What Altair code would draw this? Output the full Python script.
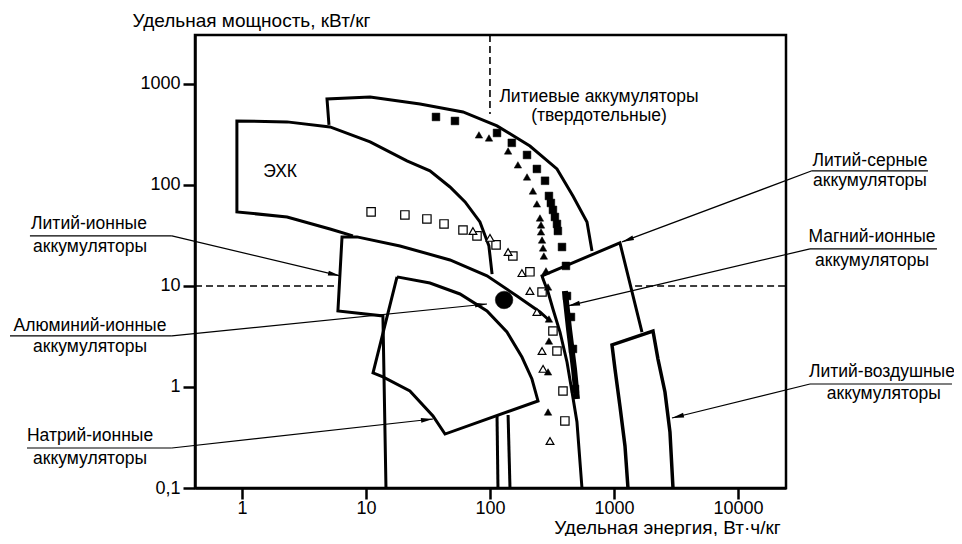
import math
import altair as alt
import pandas as pd

FONT = "Liberation Sans"
X_DOMAIN = [0.418, 24400]
Y_DOMAIN = [0.1, 3050]
W, H = 591, 453

x_ticks = [1, 10, 100, 1000, 10000]
x_tick_labels = ["1", "10", "100", "1000", "10000"]
y_ticks = [0.1, 1, 10, 100, 1000]
y_tick_labels = ["0,1", "1", "10", "100", "1000"]

# ---- region outlines: energy (Wh/kg), power (kW/kg) ----
ehk_E = [7.85, 5.13, 2.31, 0.91, 0.91, 2.31, 5.13, 10.8, 21.4, 32.8, 47.6, 63, 83, 98, 104]
ehk_P = [31.3, 36.6, 48.2, 54.1, 430, 421, 375, 267, 173, 138, 95.5, 68, 43, 25, 13.1]

li_ion_E = [14.5, 13.7, 5.94, 6.41, 8.46, 18.8, 47.6, 94.6, 165, 253, 305]
li_ion_P = [0.1, 5.05, 5.66, 30.6, 30.6, 24.9, 18.1, 12.6, 7.96, 5.53, 4.50]

na_ion_E = [17.8, 32.8, 57.3, 94.6, 137, 181, 218, 244, 43.4, 34.7, 22.6, 13.7, 11.4, 17.8]
na_ion_P = [12.3, 10.7, 8.33, 5.66, 3.50, 1.98, 1.20, 0.727, 0.342, 0.516, 0.912, 1.26, 1.38, 12.3]

below_na1_E = [114, 116]
below_na1_P = [0.516, 0.1]
below_na2_E = [140, 145]
below_na2_P = [0.528, 0.1]

solid_E = [5.03, 4.85, 10.8, 27.3, 60.6, 114, 210, 347, 467, 606, 665]
solid_P = [393, 710, 743, 634, 528, 384, 243, 144, 77.8, 43.0, 22.2]

li_s_E = [552, 503, 459, 418, 367, 322, 294, 268, 263, 1117, 1682]
li_s_P = [0.1, 0.450, 0.892, 1.77, 3.50, 5.92, 8.72, 11.7, 12.6, 26.7, 3.50]

li_air_E = [1297, 1227, 1117, 1019, 964, 2064, 2264, 2578, 2829, 2992]
li_air_P = [0.1, 0.261, 0.648, 1.51, 2.61, 3.58, 1.89, 0.892, 0.358, 0.1]

mg_E = [402, 434, 476, 503]
mg_P = [8.92, 3.75, 1.51, 0.760]

# ---- data markers ----
black_sq_E = [36.7, 52.2, 114, 150, 199, 239, 278, 299, 310, 322, 334, 347, 353, 381, 410, 418, 450, 467, 485]
black_sq_P = [471, 430, 327, 261, 198, 144, 110, 77.8, 66.3, 56.6, 48.2, 41.1, 35.0, 24.3, 15.8, 7.96, 4.93, 2.38, 0.955]

black_tri_E = [81.5, 98.2, 140, 168, 199, 222, 239, 253, 258, 258, 263, 268, 272, 283, 294, 299, 299, 294, 294]
black_tri_P = [313, 292, 217, 158, 120, 87.2, 64.9, 47.1, 40.2, 34.3, 28.5, 23.8, 19.8, 14.1, 9.77, 4.71, 2.85, 1.41, 0.565]

open_sq_E = [11.0, 20.6, 31.0, 42.6, 60.6, 78.6, 112, 153, 210, 263, 322, 347, 388, 402]
open_sq_P = [54.1, 50.5, 46.1, 41.1, 35.8, 31.3, 25.5, 19.8, 13.8, 8.72, 3.58, 2.27, 0.912, 0.461]

open_tri_E = [72.9, 100, 140, 181, 210, 239, 263, 268, 305]
open_tri_P = [35.0, 29.9, 21.7, 13.4, 8.92, 5.53, 2.27, 1.51, 0.292]

al_dot_E = [130]
al_dot_P = [7.27]

# ---- dashed reference lines ----
dash_v_E = [100, 100]
dash_v_P = [3050, 505]
dash_h1_E = [0.418, 5.9]
dash_h1_P = [10, 10]
dash_h2_E = [1480, 24400]
dash_h2_P = [10, 10]

# ---- annotations: leader start (E,P) -> arrow tip (E,P) ----
leader_start_E = [0.272, 0.272, 0.272, 39500, 38100, 38100]
leader_start_P = [31.3, 3.20, 0.249, 138, 23.3, 1.07]
leader_end_E = [6.17, 94.6, 34.7, 1161, 426, 2937]
leader_end_P = [12.6, 6.63, 0.482, 27.3, 6.34, 0.493]
underline_E1 = [0.0195, 0.01346, 0.01845, 39500, 38100, 38100]
underline_E2 = [0.272, 0.272, 0.272, 340600, 402500, 532000]
underline_P = [31.3, 3.20, 0.249, 138, 23.3, 1.07]

label_text = ["Литий-ионные", "аккумуляторы", "Алюминий-ионные", "аккумуляторы",
              "Натрий-ионные", "аккумуляторы", "Литий-серные", "аккумуляторы",
              "Магний-ионные", "аккумуляторы", "Литий-воздушные", "аккумуляторы",
              "Литиевые аккумуляторы", "(твердотельные)", "ЭХК"]
label_E = [0.0584, 0.0595, 0.0595, 0.0595, 0.0595, 0.0595, 116000, 116000,
           120500, 120500, 145000, 150000, 757, 757, 2.03]
label_P = [41.1, 24.3, 4.02, 2.49, 0.327, 0.194, 173, 110, 30.6, 17.7, 1.41, 0.852, 743, 482, 135]

# ---------------------------------------------------------------
outlines = [
    ("ehk", ehk_E, ehk_P, 3),
    ("li_ion", li_ion_E, li_ion_P, 3),
    ("na_ion", na_ion_E, na_ion_P, 3),
    ("b1", below_na1_E, below_na1_P, 3),
    ("b2", below_na2_E, below_na2_P, 3),
    ("solid", solid_E, solid_P, 3),
    ("li_s", li_s_E, li_s_P, 3),
    ("li_air", li_air_E, li_air_P, 3.5),
    ("mg", mg_E, mg_P, 6),
]
rows = []
for name, E, P, w in outlines:
    for i, (e, p) in enumerate(zip(E, P)):
        rows.append({"id": name, "i": i, "E": e, "P": p, "w": w})
outline_df = pd.DataFrame(rows)

dash_rows = []
for name, E, P in [("v", dash_v_E, dash_v_P), ("h1", dash_h1_E, dash_h1_P), ("h2", dash_h2_E, dash_h2_P)]:
    for i, (e, p) in enumerate(zip(E, P)):
        dash_rows.append({"id": name, "i": i, "E": e, "P": p})
dash_df = pd.DataFrame(dash_rows)

kx = W / (math.log10(X_DOMAIN[1]) - math.log10(X_DOMAIN[0]))
ky = H / (math.log10(Y_DOMAIN[1]) - math.log10(Y_DOMAIN[0]))
lead_rows = []
for es, ps, ee, pe in zip(leader_start_E, leader_start_P, leader_end_E, leader_end_P):
    dx = kx * (math.log10(ee) - math.log10(es))
    dy = -ky * (math.log10(pe) - math.log10(ps))
    ang = math.degrees(math.atan2(dx, -dy)) % 360
    lead_rows.append({"E": es, "P": ps, "E2": ee, "P2": pe, "ang": ang})
lead_df = pd.DataFrame(lead_rows)
under_df = pd.DataFrame({"E": underline_E1, "E2": underline_E2, "P": underline_P})
label_df = pd.DataFrame({"E": label_E, "P": label_P, "t": label_text})


def expr_for(vals, labs):
    s = "''"
    for v, l in reversed(list(zip(vals, labs))):
        s = f"datum.value == {v} ? '{l}' : ({s})"
    return s


common_axis = dict(grid=False, tickWidth=2.5, domainWidth=2.5, domainColor="black",
                   tickColor="black", labelColor="black", labelFont=FONT, labelFontSize=18,
                   titleFont=FONT, titleFontSize=19, titleFontWeight="normal", titleColor="black",
                   titleAngle=0, titleAlign="center", titleBaseline="middle")

xs = alt.Scale(type="log", domain=X_DOMAIN, nice=False)
ys = alt.Scale(type="log", domain=Y_DOMAIN, nice=False)
X = alt.X("E:Q", scale=xs, axis=alt.Axis(values=x_ticks, labelExpr=expr_for(x_ticks, x_tick_labels),
                                          title="Удельная энергия, Вт·ч/кг", titleX=472, titleY=39,
                                          tickSize=11, labelPadding=0, **common_axis))
Y = alt.Y("P:Q", scale=ys, axis=alt.Axis(values=y_ticks, labelExpr=expr_for(y_ticks, y_tick_labels),
                                          title="Удельная мощность, кВт/кг", titleX=56, titleY=-15,
                                          tickSize=12, labelPadding=3, **common_axis))

base_outline = alt.Chart(outline_df).mark_line(color="black", strokeJoin="miter", strokeCap="butt").encode(
    x=X, y=Y, detail="id:N", order="i:Q", strokeWidth=alt.StrokeWidth("w:Q", scale=None))

dashed = alt.Chart(dash_df).mark_line(color="black", strokeWidth=1.6, strokeDash=[7, 4]).encode(
    x="E:Q", y="P:Q", detail="id:N", order="i:Q")


def pts(E, P, shape, filled, size, sw=1.2):
    df = pd.DataFrame({"E": E, "P": P})
    return alt.Chart(df).mark_point(shape=shape, filled=True, size=size,
                                    fill="black" if filled else "white", stroke="black",
                                    strokeWidth=sw, opacity=1).encode(x="E:Q", y="P:Q")


open_sq = pts(open_sq_E, open_sq_P, "square", False, 70)
open_tri = pts(open_tri_E, open_tri_P, "triangle-up", False, 60)
black_sq = pts(black_sq_E, black_sq_P, "square", True, 60, 0.5)
black_tri = pts(black_tri_E, black_tri_P, "triangle-up", True, 55, 0.5)
al_dot = pts(al_dot_E, al_dot_P, "circle", True, 310, 0.5)

leaders = alt.Chart(lead_df).mark_rule(color="black", strokeWidth=1.2).encode(
    x="E:Q", y="P:Q", x2="E2:Q", y2="P2:Q")
arrows = alt.Chart(lead_df).mark_point(shape="M0,0L-0.2,1L0.2,1Z", filled=True, fill="black",
                                       size=576, opacity=1, strokeWidth=0).encode(
    x="E2:Q", y="P2:Q", angle=alt.Angle("ang:Q", scale=None))
underlines = alt.Chart(under_df).mark_rule(color="black", strokeWidth=1.2).encode(
    x="E:Q", x2="E2:Q", y="P:Q")
labels = alt.Chart(label_df).mark_text(font=FONT, fontSize=17.5, color="black", baseline="middle",
                                       align="center").encode(x="E:Q", y="P:Q", text="t:N")

chart = alt.layer(
    dashed, base_outline, leaders, underlines, arrows,
    open_sq, open_tri, black_sq, black_tri, al_dot, labels
).properties(
    width=W, height=H, autosize="none",
    padding={"left": 187, "top": 27, "right": 168, "bottom": 48}
).configure_view(stroke="black", strokeWidth=2.5)

chart.save("out.html", embed_options={"renderer": "svg", "actions": False})
